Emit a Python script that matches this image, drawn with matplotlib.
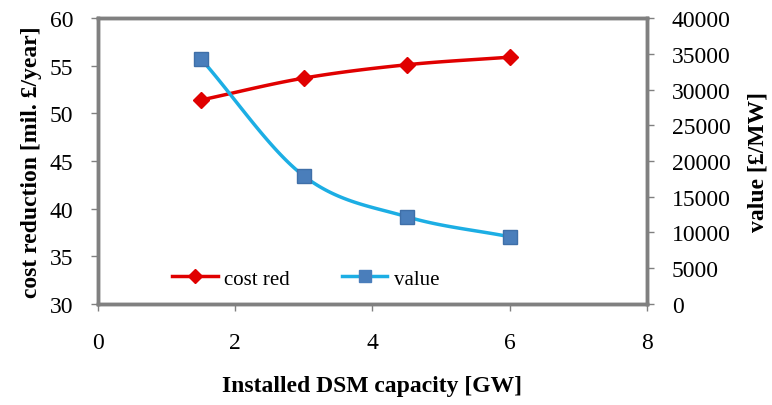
import numpy as np
import matplotlib.pyplot as plt

# data
capacity = [1.5, 3.0, 4.5, 6.0]           # installed DSM capacity [GW]
cost_red = [51.4, 53.7, 55.1, 55.9]       # cost reduction [mil. £/year]
value = [34300, 17900, 12200, 9400]       # value [£/MW]


def smooth(x, y, n=40):
    # Catmull-Rom style smoothing like Excel's "smoothed line"
    x = np.asarray(x, float)
    y = np.asarray(y, float)
    px = np.concatenate([[2 * x[0] - x[1]], x, [2 * x[-1] - x[-2]]])
    py = np.concatenate([[2 * y[0] - y[1]], y, [2 * y[-1] - y[-2]]])
    xs, ys = [], []
    t = np.linspace(0, 1, n)
    for i in range(1, len(px) - 2):
        for p, out in ((px, xs), (py, ys)):
            p0, p1, p2, p3 = p[i - 1], p[i], p[i + 1], p[i + 2]
            out.extend(0.5 * ((2 * p1) + (-p0 + p2) * t
                              + (2 * p0 - 5 * p1 + 4 * p2 - p3) * t ** 2
                              + (-p0 + 3 * p1 - 3 * p2 + p3) * t ** 3))
    return xs, ys


plt.rcParams['font.family'] = ['Liberation Serif', 'DejaVu Serif']

fig = plt.figure(figsize=(7.72, 4.06), dpi=100)
ax = fig.add_axes([0.127, 0.249, 0.711, 0.704])
ax2 = ax.twinx()

red = '#E00000'
cyan = '#1CAEE4'
sq = '#4A7EBB'

sx, sy = smooth(capacity, cost_red)
ax.plot(sx, sy, color=red, lw=2.5, zorder=3)
ax.plot(capacity, cost_red, 'D', color=red, ms=8, zorder=4)

vx, vy = smooth(capacity, value)
ax2.plot(vx, vy, color=cyan, lw=2.5, zorder=3)
ax2.plot(capacity, value, 's', color=sq, mec='#3F6FA8', ms=10, zorder=4)

ax.set_xlim(0, 8)
ax.set_ylim(30, 60)
ax2.set_ylim(0, 40000)
ax.set_xticks([0, 2, 4, 6, 8])
ax.set_yticks(range(30, 61, 5))
ax2.set_yticks(range(0, 40001, 5000))

for a in (ax, ax2):
    for s in a.spines.values():
        s.set_color('#808080')
        s.set_linewidth(2.5)
    a.tick_params(colors='#808080', labelcolor='black', labelsize=17,
                  length=5, width=1)
ax.tick_params(axis='x', pad=15)
ax.tick_params(axis='y', pad=13)
ax2.tick_params(axis='y', pad=13)

ax.set_xlabel('Installed DSM capacity [GW]', fontsize=17, fontweight='bold',
              labelpad=16)
ax.set_ylabel('cost reduction [mil. £/year]', fontsize=17, fontweight='bold',
              labelpad=5)
ax2.set_ylabel('value [£/MW]', fontsize=17, fontweight='bold', labelpad=12)

h1 = plt.Line2D([], [], color=red, lw=2.5, marker='D', ms=7)
h2 = plt.Line2D([], [], color=cyan, lw=2.5, marker='s', mfc=sq, mec=sq, ms=8)
ax2.legend([h1, h2], ['cost red', 'value'], loc='lower left', ncol=2,
           frameon=False, fontsize=15, handlelength=2.2, handletextpad=0.3,
           columnspacing=2.5, bbox_to_anchor=(0.1, -0.012))

fig.savefig('out.png', dpi=100)
